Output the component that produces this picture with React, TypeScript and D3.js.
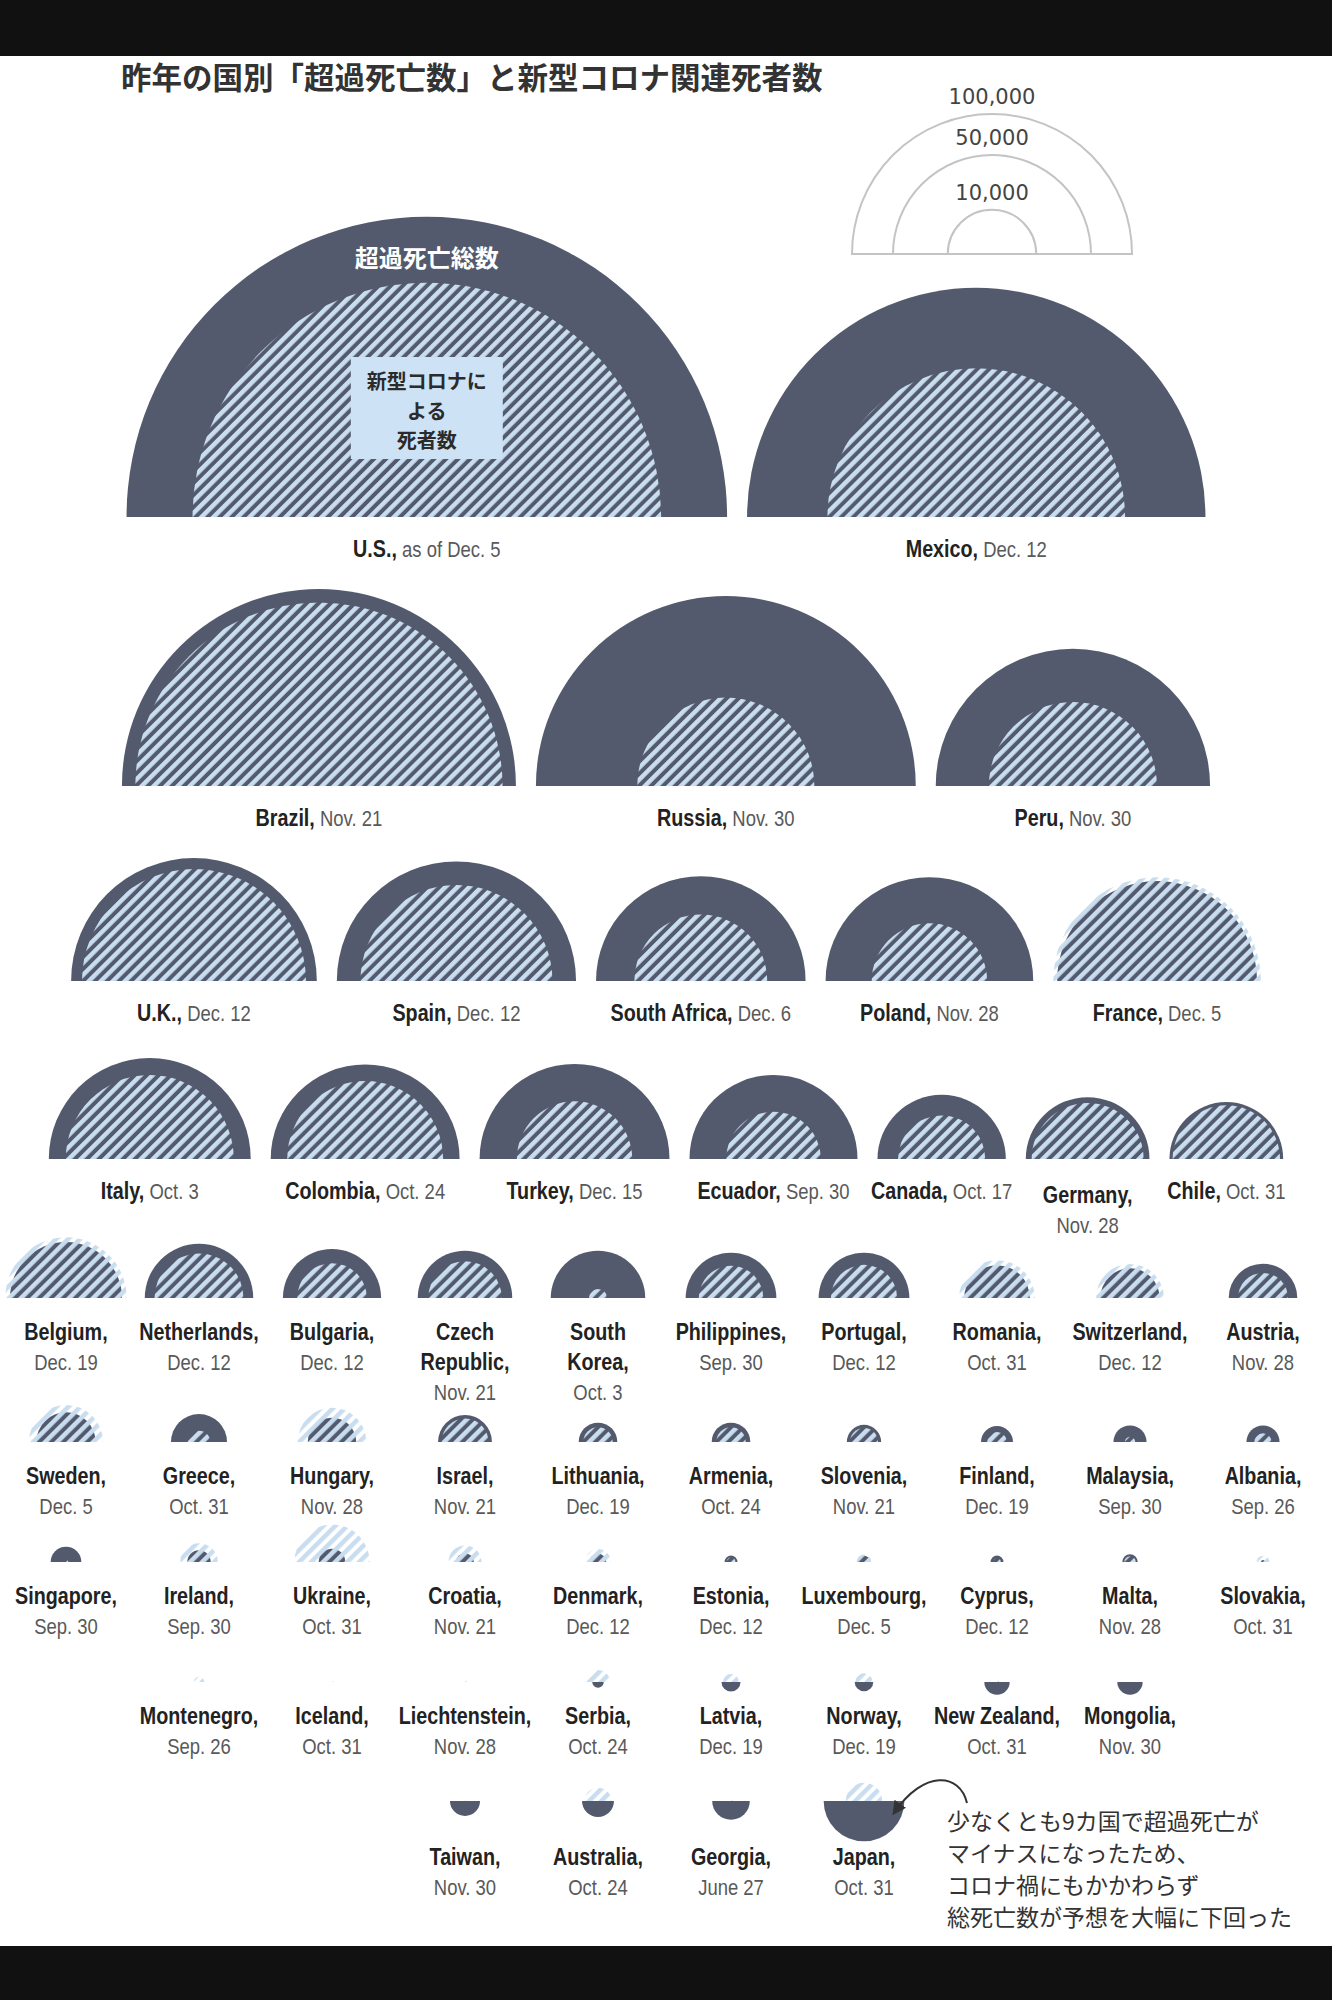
import React from 'react';
import * as d3 from 'd3';

// Excess deaths vs. COVID-19 deaths by country (area-proportional semicircles)
const countries = [
  'U.S.', 'Mexico',
  'Brazil', 'Russia', 'Peru',
  'U.K.', 'Spain', 'South Africa', 'Poland', 'France',
  'Italy', 'Colombia', 'Turkey', 'Ecuador', 'Canada', 'Germany', 'Chile',
  'Belgium', 'Netherlands', 'Bulgaria', 'Czech Republic', 'South Korea', 'Philippines', 'Portugal', 'Romania', 'Switzerland', 'Austria',
  'Sweden', 'Greece', 'Hungary', 'Israel', 'Lithuania', 'Armenia', 'Slovenia', 'Finland', 'Malaysia', 'Albania',
  'Singapore', 'Ireland', 'Ukraine', 'Croatia', 'Denmark', 'Estonia', 'Luxembourg', 'Cyprus', 'Malta', 'Slovakia',
  'Montenegro', 'Iceland', 'Liechtenstein', 'Serbia', 'Latvia', 'Norway', 'New Zealand', 'Mongolia',
  'Taiwan', 'Australia', 'Georgia', 'Japan',
];

const dates = [
  'as of Dec. 5', 'Dec. 12',
  'Nov. 21', 'Nov. 30', 'Nov. 30',
  'Dec. 12', 'Dec. 12', 'Dec. 6', 'Nov. 28', 'Dec. 5',
  'Oct. 3', 'Oct. 24', 'Dec. 15', 'Sep. 30', 'Oct. 17', 'Nov. 28', 'Oct. 31',
  'Dec. 19', 'Dec. 12', 'Dec. 12', 'Nov. 21', 'Oct. 3', 'Sep. 30', 'Dec. 12', 'Oct. 31', 'Dec. 12', 'Nov. 28',
  'Dec. 5', 'Oct. 31', 'Nov. 28', 'Nov. 21', 'Dec. 19', 'Oct. 24', 'Nov. 21', 'Dec. 19', 'Sep. 30', 'Sep. 26',
  'Sep. 30', 'Sep. 30', 'Oct. 31', 'Nov. 21', 'Dec. 12', 'Dec. 12', 'Dec. 5', 'Dec. 12', 'Nov. 28', 'Oct. 31',
  'Sep. 26', 'Oct. 31', 'Nov. 28', 'Oct. 24', 'Dec. 19', 'Dec. 19', 'Oct. 31', 'Nov. 30',
  'Nov. 30', 'Oct. 24', 'June 27', 'Oct. 31',
];

const excessDeaths = [
  460000, 268000,
  198000, 184000, 96000,
  77000, 73000, 56000, 55000, 51000,
  52000, 45500, 46000, 36000, 21000, 19500, 16500,
  16000, 15000, 12300, 11400, 11400, 10500, 10500, 5500, 4500, 6000,
  4500, 4000, 3000, 3700, 1900, 1900, 1500, 1300, 1400, 1400,
  1200, 700, 900, 400, 350, 210, 200, 210, 300, 20,
  0, 0, 0, -170, -460, -440, -820, -820,
  -1150, -1300, -1800, -8300,
];

const covidDeaths = [
  280000, 113000,
  172000, 40000, 36000,
  64000, 47000, 22500, 17000, 55000,
  36000, 31000, 17000, 11400, 9700, 16000, 14700,
  18800, 10100, 6200, 6900, 420, 5300, 5600, 7300, 5900, 3200,
  7000, 650, 6000, 2800, 1100, 1100, 1000, 500, 136, 380,
  27, 1800, 7200, 1400, 850, 100, 280, 70, 170, 200,
  140, 11, 20, 730, 320, 380, 25, 0,
  7, 905, 14, 1700,
];

const legendValues = [100000, 50000, 10000];

// layout
const W = 1332;
const H = 2000;
const rowSizes = [2, 3, 5, 7, 10, 10, 10, 8, 4];
const rowBaselines = [517, 786, 981, 1159, 1298, 1442, 1562, 1682, 1801];
const gridStart: (number | null)[] = [null, null, null, null, 0, 0, 0, 1, 3];
const wrapped = new Set(['Germany']);
const splitName = new Set(['Czech Republic', 'South Korea']);

const DARK = '#535a6d';
const LIGHT = '#c8def0';
const LABEL_FONT = "'Liberation Sans', Arial, sans-serif";
const NARROW = 0.84; // horizontal squeeze to mimic a narrow face
const NAME_SIZE = 23.5;
const DATE_SIZE = 22;
const CJK_FONT = "'Noto Sans CJK JP', sans-serif";

const rScale = d3.scaleSqrt().domain([0, 100000]).range([0, 140]);
const upArc = (r: number) =>
  d3.arc()({ innerRadius: 0, outerRadius: r, startAngle: -Math.PI / 2, endAngle: Math.PI / 2 }) || '';
const downArc = (r: number) =>
  d3.arc()({ innerRadius: 0, outerRadius: r, startAngle: Math.PI / 2, endAngle: (3 * Math.PI) / 2 }) || '';

const gridX = d3.scalePoint<number>().domain(d3.range(10)).range([66, 1263]);

interface Item {
  i: number;
  cx: number;
  base: number;
  row: number;
  grid: boolean;
  labelDy: number;
}

function buildLayout(): Item[] {
  const items: Item[] = [];
  let k = 0;
  rowSizes.forEach((n, row) => {
    const idx = d3.range(k, k + n);
    k += n;
    const base = rowBaselines[row];
    const maxDown = d3.max(idx, (i) => (excessDeaths[i] < 0 ? rScale(-excessDeaths[i]) : 0)) || 0;
    const labelDy = 34 + Math.max(0, maxDown - 18);
    const start = gridStart[row];
    if (start === null) {
      const gap = 20;
      const widths = idx.map((i) => 2 * Math.max(rScale(Math.abs(excessDeaths[i])), rScale(covidDeaths[i])));
      const total = d3.sum(widths) + gap * (n - 1);
      let x = W / 2 - total / 2;
      idx.forEach((i, j) => {
        items.push({ i, cx: x + widths[j] / 2, base, row, grid: false, labelDy: labelDy - 2 });
        x += widths[j] + gap;
      });
    } else {
      idx.forEach((i, j) => {
        items.push({ i, cx: gridX(start + j) as number, base, row, grid: true, labelDy });
      });
    }
  });
  return items;
}

const Label: React.FC<{ it: Item }> = ({ it }) => {
  const name = countries[it.i];
  const date = dates[it.i];
  const y0 = it.base + it.labelDy + 8;
  const lh = 30;
  const common = { textAnchor: 'middle' as const, fontFamily: LABEL_FONT };
  if (!it.grid && !wrapped.has(name)) {
    return (
      <g transform={`translate(${it.cx},${y0}) scale(${NARROW},1)`}>
        <text {...common}>
          <tspan fontWeight="bold" fontSize={NAME_SIZE} fill="#222">{name},</tspan>
          <tspan fontSize={DATE_SIZE} fill="#595959"> {date}</tspan>
        </text>
      </g>
    );
  }
  const nameLines = splitName.has(name) ? name.split(' ') : [name];
  const dy = wrapped.has(name) ? 4 : 0;
  return (
    <g transform={`translate(${it.cx},${y0 + dy}) scale(${NARROW},1)`}>
      {nameLines.map((s, j) => (
        <text key={j} y={j * lh} {...common} fontSize={NAME_SIZE} fontWeight="bold" fill="#222">
          {s}{j === nameLines.length - 1 ? ',' : ''}
        </text>
      ))}
      <text y={nameLines.length * lh} {...common} fontSize={DATE_SIZE} fill="#595959">
        {date}
      </text>
    </g>
  );
};

const App: React.FC = () => {
  const items = buildLayout();
  const us = items[0];
  const japan = items.find((d) => countries[d.i] === 'Japan')!;
  const legendCx = 992;
  const legendBase = 254;
  const fmt = d3.format(',');
  const noteLines = [
    '少なくとも9カ国で超過死亡が',
    'マイナスになったため、',
    'コロナ禍にもかかわらず',
    '総死亡数が予想を大幅に下回った',
  ];
  const boxLines = ['新型コロナに', 'よる', '死者数'];

  return (
    <svg width={W} height={H} style={{ position: 'absolute', left: 0, top: 0, background: '#fff' }}>
      <defs>
        <pattern id="covidHatch" patternUnits="userSpaceOnUse" width={8.5} height={8.5} patternTransform="rotate(45)">
          <rect x={0} y={0} width={4.5} height={8.5} fill={LIGHT} />
        </pattern>
        <marker id="arrowHead" viewBox="0 0 10 10" refX={8} refY={5} markerWidth={7} markerHeight={7} orient="auto">
          <path d="M0,0 L10,5 L0,10 z" fill="#333" />
        </marker>
      </defs>

      <rect x={0} y={0} width={W} height={56} fill="#111" />
      <rect x={0} y={1946} width={W} height={54} fill="#111" />

      <text x={121} y={89} fontFamily={CJK_FONT} fontWeight="bold" fontSize={30.5} fill="#333">
        昨年の国別「超過死亡数」と新型コロナ関連死者数
      </text>

      {/* legend */}
      <g transform={`translate(${legendCx},${legendBase})`}>
        {legendValues.map((v) => (
          <g key={v}>
            <path d={upArc(rScale(v))} fill="none" stroke="#c4c4c4" strokeWidth={2} />
            <text
              y={-rScale(v) - 10}
              textAnchor="middle"
              fontFamily="'DejaVu Sans', sans-serif"
              fontSize={21}
              fill="#444"
            >
              {fmt(v)}
            </text>
          </g>
        ))}
        <line x1={-rScale(legendValues[0])} x2={rScale(legendValues[0])} y1={0} y2={0} stroke="#c4c4c4" strokeWidth={2} />
      </g>

      {/* semicircles */}
      {items.map((it) => {
        const ex = excessDeaths[it.i];
        const cv = covidDeaths[it.i];
        return (
          <g key={it.i} transform={`translate(${it.cx},${it.base})`}>
            {ex > 0 && <path d={upArc(rScale(ex))} fill={DARK} />}
            {ex < 0 && <path d={downArc(rScale(-ex))} fill={DARK} />}
            {cv > 0 && <path d={upArc(rScale(cv))} fill="url(#covidHatch)" />}
          </g>
        );
      })}

      {items.map((it) => (
        <Label key={it.i} it={it} />
      ))}

      {/* annotations on the U.S. */}
      <text x={us.cx} y={us.base - 250} textAnchor="middle" fontFamily={CJK_FONT} fontWeight="bold" fontSize={24} fill="#fff">
        超過死亡総数
      </text>
      <rect x={us.cx - 76} y={us.base - 160} width={152} height={102} fill="#cde2f4" />
      {boxLines.map((s, j) => (
        <text
          key={s}
          x={us.cx}
          y={us.base - 128 + j * 29.5}
          textAnchor="middle"
          fontFamily={CJK_FONT}
          fontWeight="bold"
          fontSize={20}
          fill="#2b2b2b"
        >
          {s}
        </text>
      ))}

      {/* note on negative excess deaths */}
      <path
        d={`M${japan.cx + 103},${japan.base + 2} C${japan.cx + 96},${japan.base - 28} ${japan.cx + 60},${japan.base - 32} ${japan.cx + 30},${japan.base + 12}`}
        fill="none"
        stroke="#333"
        strokeWidth={2}
        markerEnd="url(#arrowHead)"
      />
      {noteLines.map((s, j) => (
        <text key={s} x={japan.cx + 83} y={japan.base + 29 + j * 32} fontFamily={CJK_FONT} fontSize={23} fill="#333">
          {s}
        </text>
      ))}
    </svg>
  );
};

export default App;
